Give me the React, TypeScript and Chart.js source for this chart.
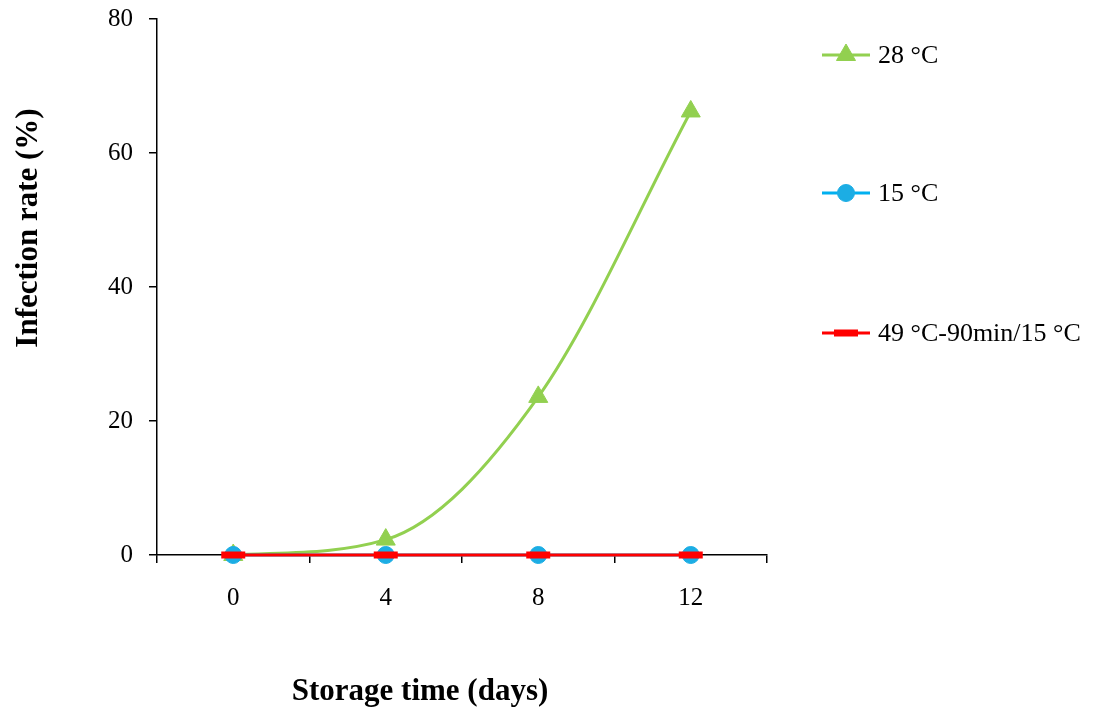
import React, { useEffect, useRef } from "react";
import { Chart, registerables } from "chart.js";
import { drawPoint } from "chart.js/helpers";

Chart.register(...registerables);

const days = ["0", "4", "8", "12"];
const rate28 = [0, 2.3, 23.6, 66.2];
const rate15 = [0, 0, 0, 0];
const rateHeat = [0, 0, 0, 0];
const seriesLabels = ["28 °C", "15 °C", "49 °C-90min/15 °C"];
const yTicks = [0, 20, 40, 60, 80];
const xTitle = "Storage time (days)";
const yTitle = "Infection rate (%)";

const FONT = "'Liberation Serif', 'Times New Roman', serif";

const legendPlugin = {
  id: "customLegend",
  afterDraw(chart: any) {
    const ctx = chart.ctx;
    const rows = [55, 193, 333];
    chart.data.datasets.forEach((ds: any, i: number) => {
      const y = rows[i];
      const x0 = 822;
      const x1 = 870;
      ctx.save();
      ctx.strokeStyle = ds.borderColor;
      ctx.lineWidth = ds.borderWidth;
      ctx.beginPath();
      ctx.moveTo(x0, y);
      ctx.lineTo(x1, y);
      ctx.stroke();
      ctx.fillStyle = ds.pointBackgroundColor;
      ctx.strokeStyle = ds.pointBorderColor;
      ctx.lineWidth = ds.pointBorderWidth;
      drawPoint(
        ctx,
        { pointStyle: ds.pointStyle, rotation: 0, radius: ds.pointRadius, borderWidth: ds.pointBorderWidth },
        (x0 + x1) / 2,
        y
      );
      ctx.fillStyle = "#000";
      ctx.font = `26px ${FONT}`;
      ctx.textAlign = "left";
      ctx.textBaseline = "middle";
      ctx.fillText(ds.label, 878, y + 1);
      ctx.restore();
    });
    // axis titles
    ctx.save();
    ctx.fillStyle = "#000";
    ctx.font = `bold 31px ${FONT}`;
    ctx.textAlign = "center";
    ctx.textBaseline = "middle";
    ctx.fillText(xTitle, 420, 692);
    ctx.translate(29, 228);
    ctx.rotate(-Math.PI / 2);
    ctx.fillText(yTitle, 0, 0);
    ctx.restore();
  },
};

export default function App() {
  const ref = useRef<HTMLCanvasElement>(null);
  useEffect(() => {
    if (!ref.current) return;
    const chart = new Chart(ref.current, {
      type: "line",
      data: {
        labels: days,
        datasets: [
          {
            label: seriesLabels[0],
            data: rate28,
            borderColor: "#92D050",
            backgroundColor: "#92D050",
            borderWidth: 3,
            pointStyle: "triangle",
            pointRadius: 11,
            pointBorderWidth: 1,
            pointBackgroundColor: "#92D050",
            pointBorderColor: "#92D050",
            cubicInterpolationMode: "monotone",
            clip: false,
            order: 3,
          },
          {
            label: seriesLabels[1],
            data: rate15,
            borderColor: "#00B0F0",
            backgroundColor: "#1CADE4",
            borderWidth: 3,
            pointStyle: "circle",
            pointRadius: 8.5,
            pointBorderWidth: 1,
            pointBackgroundColor: "#1CADE4",
            pointBorderColor: "#1CADE4",
            clip: false,
            order: 2,
          },
          {
            label: seriesLabels[2],
            data: rateHeat,
            borderColor: "#FF0000",
            backgroundColor: "#FF0000",
            borderWidth: 3,
            pointStyle: "line",
            pointRadius: 12,
            pointBorderWidth: 7,
            pointBackgroundColor: "#FF0000",
            pointBorderColor: "#FF0000",
            clip: false,
            order: 1,
          },
        ] as any,
      },
      options: {
        animation: false,
        responsive: false,
        layout: { padding: { top: 16, right: 327, bottom: 0, left: 0 } },
        plugins: { legend: { display: false }, tooltip: { enabled: false } },
        scales: {
          x: {
            offset: true,
            grid: { offset: true, drawOnChartArea: false, drawTicks: true, tickLength: 8, color: "#000", lineWidth: 1.5 },
            border: { display: true, color: "#000", width: 1.5 },
            ticks: { color: "#000", font: { family: FONT, size: 25 }, padding: 20 },
            afterFit(scale: any) {
              scale.height = 158;
              scale.paddingLeft = 0;
              scale.paddingRight = 0;
            },
          },
          y: {
            min: 0,
            max: 80,
            afterBuildTicks(scale: any) {
              scale.ticks = yTicks.map((v) => ({ value: v }));
            },
            grid: { drawOnChartArea: false, drawTicks: true, tickLength: 8, color: "#000", lineWidth: 1.5 },
            border: { display: true, color: "#000", width: 1.5 },
            ticks: { color: "#000", font: { family: FONT, size: 25 }, padding: 16 },
            afterFit(scale: any) {
              scale.width = 157;
              scale.paddingTop = 0;
              scale.paddingBottom = 0;
            },
          },
        },
      } as any,
      plugins: [legendPlugin],
    });
    return () => chart.destroy();
  }, []);
  return (
    <div style={{ position: "absolute", left: 0, top: 0, width: 1094, height: 713, background: "#fff" }}>
      <canvas ref={ref} width={1094} height={713} />
    </div>
  );
}
